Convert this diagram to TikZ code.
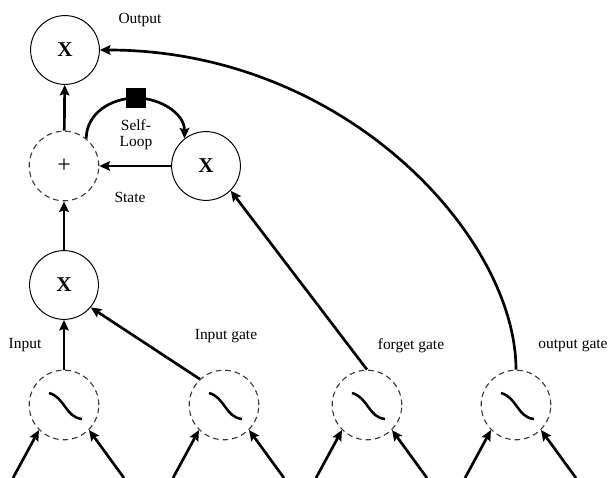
\documentclass[tikz,border=0pt]{standalone}
\usepackage{fontspec}
\setmainfont{Liberation Serif}
\usetikzlibrary{arrows.meta}
\definecolor{ink}{HTML}{000000}
\definecolor{rim}{HTML}{3A3A3A}
\tikzset{
  mul/.style={circle,draw=ink,line width=0.7pt,minimum size=1.72cm,inner sep=0pt,font=\fontsize{15}{17}\selectfont\bfseries},
  add/.style={circle,draw=rim,line width=0.8pt,dash pattern=on 4pt off 2.8pt,minimum size=1.74cm,inner sep=0pt,font=\fontsize{17}{19}\selectfont},
  squash/.style={add},
  wave/.style={ink,line width=1.8pt},
  feed/.style={ink,line width=1.9pt,-{Stealth[length=7.5pt,width=6.8pt,inset=1.2pt]}},
  loopbox/.style={rectangle,fill=ink,minimum size=0.52cm,inner sep=0pt},
  lbl/.style={font=\fontsize{11}{11.5}\selectfont,align=center},
}
\begin{document}
\begin{tikzpicture}[x=0.025cm,y=0.025cm]
  \useasboundingbox (0,0) rectangle (608,478);
  \node[mul] (ox) at (65,428) {X};
  \node[add] (st) at (64,312) {+};
  \node[mul] (fx) at (206,312) {X};
  \node[mul] (ix) at (64,193) {X};
  \foreach \n/\x in {1/64,2/224,3/367,4/516}{
    \node[squash] (s\n) at (\x,73) {};
    \draw[wave] (\x-15,85) to[out=-15,in=175] (\x+18,59);
    \coordinate (l\n) at (\x-51,0);
    \coordinate (r\n) at (\x+60,0);
    \draw[feed] (l\n) -- (s\n.225);
    \draw[feed] (r\n) -- (s\n.-45);
  }
  \node[loopbox] (dl) at (136,380) {};
  \draw[feed] (st.51) to[out=90,in=180] (dl.center) to[out=0,in=90] (fx.128);
  \node[loopbox] at (dl) {};
  \draw[feed] (fx) -- (st);
  \draw[feed] (st) -- (ox);
  \draw[feed] (ix) -- (st);
  \draw[feed] (s1) -- (ix);
  \draw[feed] (s2.133) -- (ix.-40);
  \draw[feed] (s3.north) -- (fx.-45);
  \draw[feed] (s4.north) .. controls (516,241) and (345,428) .. (ox.east);
  \node[lbl] (lout) at (140,458) {Output};
  \node[lbl] (lself) at (136,343) {Self-\\Loop};
  \node[lbl] (lst) at (130,281) {State};
  \node[lbl] (lin) at (25,133) {Input};
  \node[lbl] (lig) at (226,142) {Input gate};
  \node[lbl] (lfg) at (411,132) {forget gate};
  \node[lbl] (log) at (573,132) {output gate};
\end{tikzpicture}
\end{document}
